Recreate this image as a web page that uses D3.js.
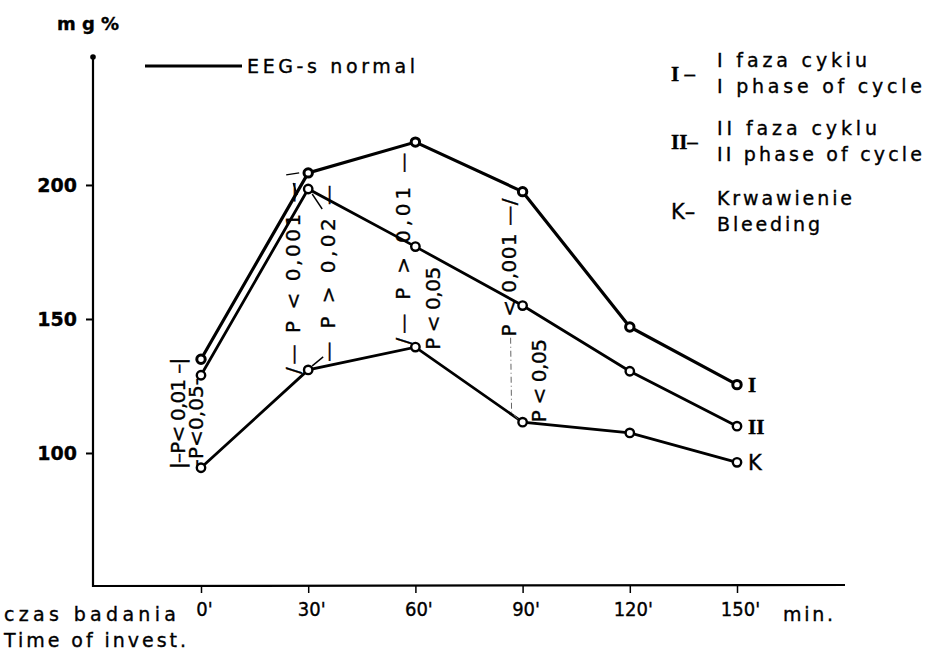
<!DOCTYPE html>
<html><head><meta charset="utf-8">
<script src="https://cdn.jsdelivr.net/npm/d3@7"></script>
<style>body{margin:0;background:#fff} svg{display:block} svg text{stroke:#000;stroke-width:0.35px}</style>
</head><body>
<svg id="c" width="933" height="652"></svg>
<script>
// ---- data ----
const times = [0, 30, 60, 90, 120, 150];
const timeLabels = ["0'", "30'", "60'", "90'", "120'", "150'"];
const valuesI  = [135, 204.5, 216, 197.5, 147, 125.5];
const valuesII = [129, 198.5, 177, 155, 130.5, 110];
const valuesK  = [94.5, 131, 139.5, 111.5, 107.5, 96.5];
const seriesNames = ["I", "II", "K"];
const yTicks = [100, 150, 200];
const legendKeys = ["I –", "II–", "K–"];
const legendLine1 = ["I faza cykiu", "II faza cyklu", "Krwawienie"];
const legendLine2 = ["I phase of cycle", "II phase of cycle", "Bleeding"];
const pLabels = ["|–P< 0,01 –|", "-P<0,05-", "/— P < 0,001 —", "— P > 0,02 —",
                 "/— P > 0,01 —", "P < 0,05", "P <  0,001 —/", "P < 0,05"];

const svg = d3.select("#c");
const x = d3.scaleLinear().domain([0, 150]).range([201, 737]);
const y = d3.scaleLinear().domain([50, 247]).range([587, 59]);
const FONT = "'DejaVu Sans', sans-serif";
const COND = "'DejaVu Sans Condensed', 'Liberation Sans Narrow', sans-serif";
const SERIF = "'Liberation Serif', 'DejaVu Serif', serif";

// ---- axes ----
const gy = svg.append("g").attr("transform", "translate(93,0)")
  .call(d3.axisLeft(y).tickValues(yTicks).tickSize(7).tickSizeOuter(0).tickPadding(9));
gy.select(".domain").remove();
gy.selectAll(".tick line").attr("stroke", "#000").attr("stroke-width", 2);
gy.selectAll(".tick text").attr("font-family", FONT).attr("font-size", 19)
  .attr("font-weight", "bold").attr("fill", "#000").attr("dy", "0.36em");
svg.append("line").attr("x1", 93).attr("x2", 93).attr("y1", 57).attr("y2", 587)
  .attr("stroke", "#000").attr("stroke-width", 2.2);
svg.append("circle").attr("cx", 93).attr("cy", 57).attr("r", 2.8).attr("fill", "#000");

const gx = svg.append("g").attr("transform", "translate(0,586)")
  .call(d3.axisBottom(x).tickValues(times).tickFormat((d, i) => timeLabels[i])
    .tickSize(7).tickSizeOuter(0).tickPadding(9));
gx.select(".domain").remove();
gx.selectAll(".tick line").attr("stroke", "#000").attr("stroke-width", 1.5);
gx.selectAll(".tick text").attr("font-family", COND).attr("font-size", 20)
  .attr("fill", "#000").attr("dx", 3);
svg.append("line").attr("x1", 93).attr("x2", 845).attr("y1", 586).attr("y2", 585)
  .attr("stroke", "#000").attr("stroke-width", 2.2);

// ---- axis titles ----
svg.append("text").attr("x", 57).attr("y", 30).text("mg%")
  .attr("font-family", FONT).attr("font-size", 18).attr("font-weight", "bold")
  .attr("textLength", 62).attr("lengthAdjust", "spacing");
svg.append("text").attr("x", 4).attr("y", 621).text("czas badania")
  .attr("font-family", FONT).attr("font-size", 19)
  .attr("textLength", 172).attr("lengthAdjust", "spacing");
svg.append("text").attr("x", 4).attr("y", 647).text("Time of invest.")
  .attr("font-family", FONT).attr("font-size", 19)
  .attr("textLength", 182).attr("lengthAdjust", "spacing");
svg.append("text").attr("x", 783).attr("y", 621).text("min.")
  .attr("font-family", FONT).attr("font-size", 19)
  .attr("textLength", 50).attr("lengthAdjust", "spacing");

// ---- series ----
const series = [valuesI, valuesII, valuesK];
const line = d3.line().x((d, i) => x(times[i])).y(d => y(d));
series.forEach((vals, si) => {
  svg.append("path").datum(vals).attr("d", line).attr("fill", "none")
    .attr("stroke", "#000").attr("stroke-width", si === 0 ? 3.2 : 2.8);
});
series.forEach((vals, si) => {
  svg.selectAll(null).data(vals).enter().append("circle")
    .attr("cx", (d, i) => x(times[i])).attr("cy", d => y(d)).attr("r", 4.2)
    .attr("fill", "#fff").attr("stroke", "#000").attr("stroke-width", si === 0 ? 3 : 2.4);
});
// end labels
series.forEach((vals, si) => {
  svg.append("text").attr("x", x(150) + 11).attr("y", y(vals[vals.length - 1]))
    .attr("dy", "0.36em").text(seriesNames[si])
    .attr("font-family", si === 2 ? FONT : SERIF)
    .attr("font-size", 21).attr("font-weight", si === 2 ? "normal" : "bold");
});

// ---- legend ----
svg.append("line").attr("x1", 145).attr("x2", 242).attr("y1", 66).attr("y2", 66)
  .attr("stroke", "#000").attr("stroke-width", 2.8);
svg.append("text").attr("x", 247).attr("y", 73).text("EEG-s normal")
  .attr("font-family", FONT).attr("font-size", 19)
  .attr("textLength", 168).attr("lengthAdjust", "spacing");

const rowTop = [67, 135, 205];
const l1len = [150, 160, 135];
const l2len = [205, 205, 103];
legendKeys.forEach((k, i) => {
  svg.append("text").attr("x", 671).attr("y", rowTop[i] + 14).text(k)
    .attr("font-family", i === 2 ? FONT : SERIF).attr("font-size", 21)
    .attr("font-weight", i === 2 ? "normal" : "bold");
  svg.append("text").attr("x", 717).attr("y", rowTop[i]).text(legendLine1[i])
    .attr("font-family", FONT).attr("font-size", 19)
    .attr("textLength", l1len[i]).attr("lengthAdjust", "spacing");
  svg.append("text").attr("x", 717).attr("y", rowTop[i] + 26).text(legendLine2[i])
    .attr("font-family", FONT).attr("font-size", 19)
    .attr("textLength", l2len[i]).attr("lengthAdjust", "spacing");
});

// ---- significance annotations (rotated) ----
// [time, dx, bottom value, top value]
const pPos = [
  [0, -23, valuesK[0] - 0.5, valuesI[0] + 0.5],
  [0, -5, valuesK[0] + 0.5, valuesII[0] - 1],
  [30, -15, valuesK[1] - 1.5, 201],
  [30, 20, valuesK[1] + 3, 200],
  [60, -12, 140.5, 212],
  [60, 18, valuesK[2] - 1, 169.5],
  [90, -14, 143.5, 195],
  [90, 16, 111.5, 142.5]
];
pLabels.forEach((t, i) => {
  const p = pPos[i];
  const cx = x(p[0]) + p[1];
  const y1 = y(p[2]), y2 = y(p[3]);
  svg.append("text")
    .attr("transform", `translate(${cx},${(y1 + y2) / 2}) rotate(-90)`)
    .attr("text-anchor", "middle").attr("dominant-baseline", "central")
    .attr("font-family", FONT).attr("font-size", 20)
    .attr("textLength", Math.abs(y1 - y2)).attr("lengthAdjust", "spacing")
    .text(t);
});
// small connector strokes: [time, value, dx1, dy1, dx2, dy2]
const conn = [
  [30, valuesII[1], 4, 5, 14, 20],
  [30, valuesK[1], 15, -13, 4, -4],
  [30, valuesI[1], -22, 2, -9, 0],
  [30, valuesI[1], -15, 10, -11, 22]
];
conn.forEach(c => {
  const px = x(c[0]), py = y(c[1]);
  svg.append("line")
    .attr("x1", px + c[2]).attr("y1", py + c[3])
    .attr("x2", px + c[4]).attr("y2", py + c[5])
    .attr("stroke", "#000").attr("stroke-width", 1.4);
});
// dash-dot guide at 90'
svg.append("path")
  .attr("d", `M${x(90) - 12},${y(143)} L${x(90) - 11},${y(115)} L${x(90) - 3},${y(112)}`)
  .attr("fill", "none").attr("stroke", "#666").attr("stroke-width", 1)
  .attr("stroke-dasharray", "6,3,1,3");
</script>
</body></html>
